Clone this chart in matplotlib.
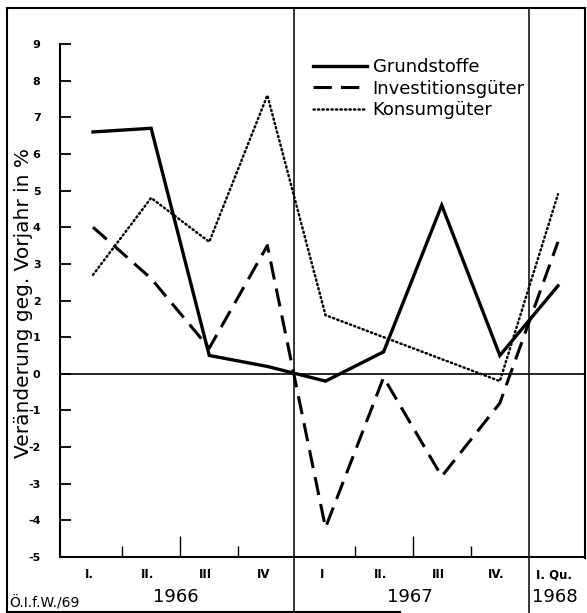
import matplotlib
matplotlib.use("Agg")
import matplotlib.pyplot as plt
from matplotlib.lines import Line2D
from matplotlib.transforms import blended_transform_factory

# ---- data ----
quarters = ["I.", "II.", "III", "IV", "I", "II.", "III", "IV.", "I. Qu."]
years = ["1966", "1967", "1968"]
grundstoffe = [6.6, 6.7, 0.5, 0.2, -0.2, 0.6, 4.6, 0.5, 2.4]
investition = [4.0, 2.6, 0.7, 3.5, -4.2, -0.1, -2.8, -0.8, 3.6]
konsum = [2.7, 4.8, 3.6, 7.6, 1.6, 1.0, 0.4, -0.2, 4.9]
series_names = ["Grundstoffe", "Investitionsgüter", "Konsumgüter"]
yticks = list(range(-5, 10))

W, H = 587, 613
fig = plt.figure(figsize=(W / 100, H / 100), dpi=100)
fx = lambda p: p / W
fy = lambda p: 1 - p / H

ax = fig.add_axes([fx(60), fy(557), fx(585) - fx(60), fy(44) - fy(557)])
ax.set_ylim(-5, 9)
ax.set_xlim(-0.568, 8.465)
x = list(range(len(quarters)))

ax.plot(x, grundstoffe, color="black", lw=2.4, solid_joinstyle="miter", label=series_names[0])
ax.plot(x, investition, color="black", lw=2.2, dashes=(6, 3), label=series_names[1])
ax.plot(x, konsum, color="black", lw=1.8, linestyle=(0, (0.5, 1.3)), dash_capstyle="round",
        label=series_names[2])

ax.axhline(0, color="black", lw=1.2)

for s in ["top", "right"]:
    ax.spines[s].set_visible(False)
ax.spines["left"].set_linewidth(1.5)
ax.spines["bottom"].set_linewidth(1.5)

ax.set_yticks(yticks)
ax.set_yticklabels([str(v) for v in yticks], fontweight="bold", fontsize=8)
ax.tick_params(axis="y", direction="in", length=8, width=1.3, pad=14)

ax.set_xticks([1.5, 5.5])
ax.set_xticks([0.5, 2.5, 4.5, 6.5], minor=True)
ax.tick_params(axis="x", which="major", direction="in", length=15, width=1.0, labelbottom=False)
ax.tick_params(axis="x", which="minor", direction="in", length=8, width=1.0, labelbottom=False)

ypx = lambda p: (557 - p) / (557 - 44)
ax.set_ylabel("Veränderung geg. Vorjahr in %", fontsize=14.5)
ax.yaxis.set_label_coords((33 - 60) / (585 - 60), ypx(303))

tr = blended_transform_factory(ax.transData, ax.transAxes)
for xi, q in zip(x, quarters):
    ax.text(xi - 0.06, ypx(575), q, transform=tr, ha="center", va="center", fontsize=8.5,
            fontweight="bold")
year_pos = [1.42, 5.45, 7.95]
for xp, yr in zip(year_pos, years):
    ax.text(xp, ypx(597), yr, transform=tr, ha="center", va="center", fontsize=13)

ax.text(fx(9), fy(603), "Ö.I.f.W./69", transform=fig.transFigure, ha="left", va="center",
        fontsize=10)

# separators
for sx in [3.45, 7.5]:
    ax.axvline(sx, ymin=ypx(613), ymax=ypx(8), clip_on=False, color="black", lw=1.1)

# frame
for (x0, y0, x1, y1) in [(7, 8, 7, 612), (7, 8, 585, 8), (585, 8, 585, 558), (7, 612, 400, 612)]:
    fig.add_artist(Line2D([fx(x0), fx(x1)], [fy(y0), fy(y1)], transform=fig.transFigure,
                          color="black", lw=1.5))

ax.legend(loc="upper left", bbox_to_anchor=(fx(313), fy(58)), bbox_transform=fig.transFigure,
          frameon=False, borderpad=0, borderaxespad=0, handlelength=3.0, handletextpad=0.3,
          labelspacing=0.2, fontsize=13)

fig.savefig("out.png", dpi=100)
